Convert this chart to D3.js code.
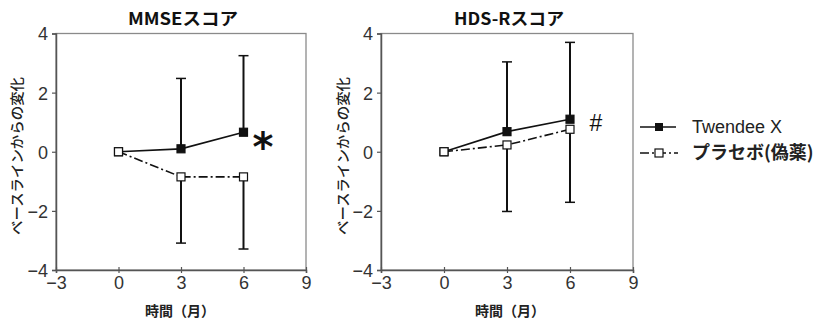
<!DOCTYPE html>
<html><head><meta charset="utf-8">
<script src="https://cdn.jsdelivr.net/npm/d3@7"></script>
<style>body{margin:0;background:#fff}svg{display:block}</style>
</head><body>
<script>
const months = [0, 3, 6];
const xTicks = [-3, 0, 3, 6, 9];
const yTicks = [-4, -2, 0, 2, 4];
const seriesNames = ["Twendee X", "プラセボ(偽薬)"];
const panelTitles = ["MMSEスコア", "HDS-Rスコア"];
const panelMarks = ["*", "#"];
// MMSE
const mmseTwendee = [0, 0.1, 0.66];
const mmseTwendeeUpper = [null, 2.48, 3.25];
const mmsePlacebo = [0, -0.85, -0.85];
const mmsePlaceboLower = [null, -3.09, -3.29];
// HDS-R
const hdsTwendee = [0, 0.68, 1.1];
const hdsTwendeeUpper = [null, 3.04, 3.7];
const hdsPlacebo = [0, 0.23, 0.76];
const hdsPlaceboLower = [null, -2.02, -1.71];

const panels = [
  {title: panelTitles[0], mark: panelMarks[0], tw: mmseTwendee, twU: mmseTwendeeUpper, pl: mmsePlacebo, plL: mmsePlaceboLower,
   x0: 56, x1: 306, markX: 263, markY: 139, markSize: 40, markFont: "'DejaVu Sans', sans-serif", markW: 700, markShift: 0.56, xlabDx: -1, ylabX: -34},
  {title: panelTitles[1], mark: panelMarks[1], tw: hdsTwendee, twU: hdsTwendeeUpper, pl: hdsPlacebo, plL: hdsPlaceboLower,
   x0: 381, x1: 633, markX: 596, markY: 123, markSize: 23, markFont: "'Liberation Sans', Arial, sans-serif", markW: 400, markShift: 0.36, xlabDx: 3, ylabX: -33}
];

const W = 816, H = 322;
const svg = d3.select("body").append("svg").attr("width", W).attr("height", H);
const yTop = 33.5, yBot = 270;
const numFont = "'Liberation Sans', Arial, sans-serif";
const jpFont = "'Noto Sans CJK JP', sans-serif";

panels.forEach(p => {
  const x = d3.scaleLinear().domain([-3, 9]).range([p.x0, p.x1]);
  const y = d3.scaleLinear().domain([-4, 4]).range([yBot, yTop]);
  const g = svg.append("g");
  g.append("rect").attr("x", p.x0).attr("y", yTop).attr("width", p.x1 - p.x0).attr("height", yBot - yTop)
    .attr("fill", "none").attr("stroke", "#8a8a8a").attr("stroke-width", 1.3);
  const ya = g.append("g").attr("transform", `translate(${p.x0},0)`)
    .call(d3.axisLeft(y).tickValues(yTicks).tickSize(4).tickPadding(4).tickFormat(d => d < 0 ? "−" + Math.abs(d) : d));
  const xa = g.append("g").attr("transform", `translate(0,${yBot})`)
    .call(d3.axisBottom(x).tickValues(xTicks).tickSize(3).tickPadding(3).tickFormat(d => d < 0 ? "−" + Math.abs(d) : d));
  [ya, xa].forEach(a => {
    a.attr("font-size", null).attr("font-family", null);
    a.select(".domain").attr("stroke", "#555").attr("stroke-width", 1.5);
    a.selectAll(".tick line").attr("stroke", "#555").attr("stroke-width", 1.2);
    a.selectAll("text").style("font-family", numFont).style("font-size", "18px").attr("fill", "#333");
  });
  xa.selectAll(".tick line").attr("y1", -3);
  ya.selectAll("text").attr("dy", "0.36em");
  g.append("text").attr("x", (p.x0 + p.x1) / 2 + 2).attr("y", 25).attr("text-anchor", "middle")
    .attr("font-family", jpFont).attr("font-weight", 700).attr("font-size", 17).attr("fill", "#111")
    .attr("textLength", p.title.length > 8 ? 112 : 110).attr("lengthAdjust", "spacingAndGlyphs")
    .text(p.title);
  g.append("text").attr("transform", `translate(${p.x0 + p.ylabX},156) rotate(-90)`).attr("text-anchor", "middle")
    .attr("font-family", jpFont).attr("font-weight", 500).attr("font-size", 14).attr("fill", "#222")
    .attr("textLength", 158).attr("lengthAdjust", "spacingAndGlyphs")
    .text("ベースラインからの変化");
  g.append("text").attr("x", x(3) + p.xlabDx).attr("y", 316).attr("text-anchor", "middle")
    .attr("font-family", jpFont).attr("font-weight", 700).attr("font-size", 14).attr("fill", "#222")
    .text("時間（月）");

  const eb = (vals, ends) => months.forEach((m, i) => {
    if (ends[i] == null) return;
    g.append("line").attr("x1", x(m)).attr("x2", x(m)).attr("y1", y(vals[i])).attr("y2", y(ends[i]))
      .attr("stroke", "#111").attr("stroke-width", 2);
    g.append("line").attr("x1", x(m) - 5).attr("x2", x(m) + 5).attr("y1", y(ends[i])).attr("y2", y(ends[i]))
      .attr("stroke", "#111").attr("stroke-width", 1.5);
  });
  eb(p.tw, p.twU);
  eb(p.pl, p.plL);

  const line = d3.line().x((d, i) => x(months[i])).y(d => y(d));
  g.append("path").attr("d", line(p.pl)).attr("fill", "none").attr("stroke", "#111").attr("stroke-width", 1.6)
    .attr("stroke-dasharray", "9,3,2,3");
  g.append("path").attr("d", line(p.tw)).attr("fill", "none").attr("stroke", "#111").attr("stroke-width", 1.7);

  const sq = 8;
  g.selectAll(null).data(p.tw).join("rect")
    .attr("x", (d, i) => x(months[i]) - sq / 2).attr("y", d => y(d) - sq / 2).attr("width", sq).attr("height", sq)
    .attr("fill", "#111").attr("stroke", "#111").attr("stroke-width", 1.2);
  g.selectAll(null).data(p.pl).join("rect")
    .attr("x", (d, i) => x(months[i]) - sq / 2).attr("y", d => y(d) - sq / 2).attr("width", sq).attr("height", sq)
    .attr("fill", "#fff").attr("stroke", "#111").attr("stroke-width", 1.2);

  g.append("text").attr("x", p.markX).attr("y", p.markY + p.markShift * p.markSize)
    .attr("font-family", p.markFont).attr("font-weight", p.markW).attr("font-size", p.markSize).attr("fill", "#111")
    .attr("text-anchor", "middle")
    .text(p.mark);
});

const lg = svg.append("g");
const rows = [{y: 127, solid: true}, {y: 153, solid: false}];
rows.forEach((r, i) => {
  if (r.solid) {
    lg.append("line").attr("x1", 640).attr("x2", 676).attr("y1", r.y).attr("y2", r.y).attr("stroke", "#111").attr("stroke-width", 1.7);
    lg.append("rect").attr("x", 655).attr("y", r.y - 4).attr("width", 8).attr("height", 8).attr("fill", "#111");
  } else {
    lg.append("line").attr("x1", 640).attr("x2", 678).attr("y1", r.y).attr("y2", r.y).attr("stroke", "#111").attr("stroke-width", 1.6)
      .attr("stroke-dasharray", "9,3,2,3");
    lg.append("rect").attr("x", 655).attr("y", r.y - 4).attr("width", 8).attr("height", 8).attr("fill", "#fff").attr("stroke", "#111").attr("stroke-width", 1.2);
  }
  lg.append("text").attr("x", 692).attr("y", r.y).attr("dy", "0.36em")
    .attr("font-family", i === 0 ? numFont : jpFont).attr("font-weight", i === 0 ? 400 : 700)
    .attr("font-size", 18).attr("fill", "#222").text(seriesNames[i]);
});
</script>
</body></html>
